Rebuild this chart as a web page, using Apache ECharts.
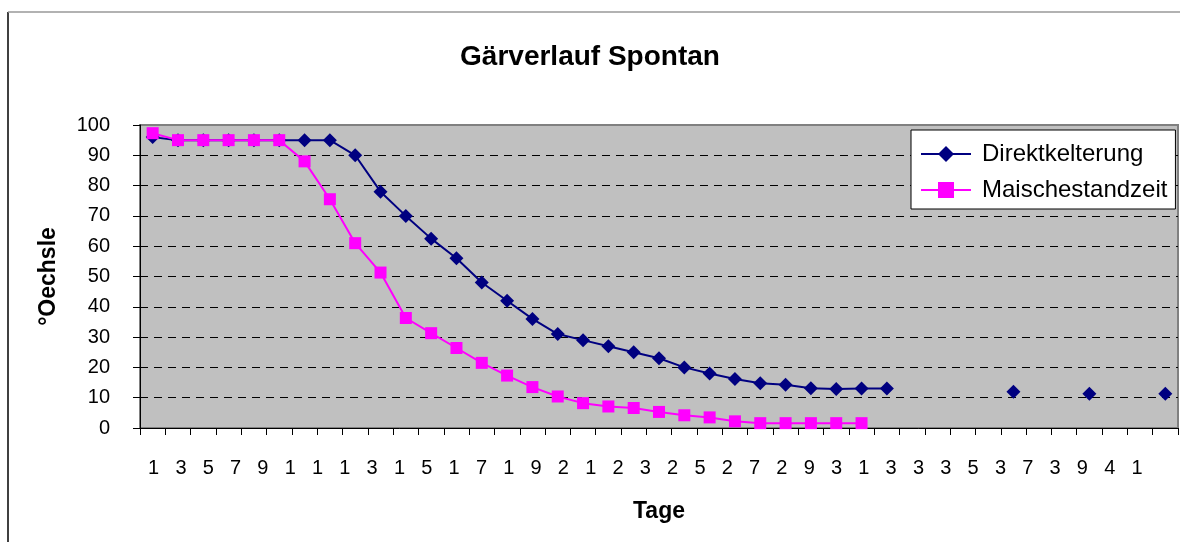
<!DOCTYPE html>
<html>
<head>
<meta charset="utf-8">
<script src="https://cdn.jsdelivr.net/npm/echarts@6/dist/echarts.min.js"></script>
<style>
  html, body { margin: 0; padding: 0; background: #fff; }
  #main { width: 1180px; height: 542px; }
</style>
</head>
<body>
<div id="main"></div>
<script>
// Tage (Kategorien der Messpunkte)
const days = ['1', '2', '3', '4', '5', '6', '7', '8', '9', '10', '11', '12', '13', '14', '15', '16', '17', '18', '19', '20',
  '21', '22', '23', '24', '25', '26', '27', '28', '29', '30', '31', '32', '33', '34', '35', '36', '37', '38', '39', '40', '41']

// Beschriftung der x-Achse so wie sie im Bild steht
const tickLabels = ['1', '3', '5', '7', '9', '1', '1', '1', '3', '1', '5', '1', '7', '1', '9', '2', '1', '2', '3', '2',
  '5', '2', '7', '2', '9', '3', '1', '3', '3', '3', '5', '3', '7', '3', '9', '4', '1', '']

const direktkelterung = [96, 95, 95, 95, 95, 95, 95, 95, 90, 78, 70, 62.5, 56, 48, 42, 36, 31, 29, 27, 25,
  23, 20, 18, 16.2, 14.8, 14.3, 13.1, 12.9, 13, 13, null, null, null, null, 12, null, null, 11.3, null, null, 11.3]

const maischestandzeit = [97.3, 95, 95, 95, 95, 95, 88, 75.5, 61, 51.3, 36.3, 31.3, 26.4, 21.5, 17.3, 13.5, 10.4, 8.2, 7.1, 6.6,
  5.3, 4.2, 3.5, 2.2, 1.6, 1.6, 1.6, 1.6, 1.6]

const yTicks = [0, 10, 20, 30, 40, 50, 60, 70, 80, 90, 100]

const font = 'Liberation Sans, Arial, sans-serif'

let chartDom = document.getElementById('main')
let myChart = echarts.init(chartDom)
let option

option = {
  animation: false,
  title: {
    text: 'Gärverlauf Spontan',
    left: 'center',
    top: 38,
    textStyle: { fontFamily: font, fontSize: 28, fontWeight: 'bold', color: '#000' }
  },
  legend: {
    orient: 'vertical',
    left: 911,
    top: 130,
    padding: [12, 8, 7, 9],
    itemGap: 12,
    itemWidth: 50,
    itemHeight: 20,
    backgroundColor: '#fff',
    borderColor: '#000',
    borderWidth: 1,
    borderRadius: 0,
    textStyle: { fontFamily: font, fontSize: 24, color: '#000', padding: [0, 0, 0, 6] },
    data: ['Direktkelterung', 'Maischestandzeit']
  },
  grid: {
    left: 140,
    right: 2,
    top: 125,
    bottom: 114,
    show: true,
    backgroundColor: '#C0C0C0',
    borderColor: '#808080',
    borderWidth: 2
  },
  xAxis: [
    {
      type: 'category',
      data: days,
      boundaryGap: true,
      name: 'Tage',
      nameLocation: 'middle',
      nameGap: 72,
      nameTextStyle: { fontFamily: font, fontSize: 23, fontWeight: 'bold', color: '#000' },
      axisLine: { lineStyle: { color: '#000', width: 1 } },
      axisTick: { show: true, interval: 0, length: 7, lineStyle: { color: '#000' } },
      axisLabel: { show: false },
      splitLine: { show: false }
    },
    {
      type: 'category',
      data: tickLabels,
      position: 'bottom',
      boundaryGap: true,
      axisLine: { show: false },
      axisTick: { show: false },
      splitLine: { show: false },
      axisLabel: { interval: 0, margin: 30, fontFamily: font, fontSize: 20, color: '#000' }
    }
  ],
  yAxis: {
    type: 'value',
    min: 0,
    max: 100,
    interval: 10,
    name: '°Oechsle',
    nameLocation: 'middle',
    nameGap: 80,
    nameTextStyle: { fontFamily: font, fontSize: 23, fontWeight: 'bold', color: '#000' },
    axisLine: { show: true, lineStyle: { color: '#000', width: 1 } },
    axisTick: { show: true, length: 7, lineStyle: { color: '#000' } },
    axisLabel: { margin: 30, fontFamily: font, fontSize: 20, color: '#000' },
    splitLine: {
      show: true,
      lineStyle: {
        color: yTicks.map(v => (v === 0 || v === 100 ? 'rgba(0,0,0,0)' : '#000')),
        type: [8, 6],
        width: 1
      }
    }
  },
  series: [
    {
      name: 'Direktkelterung',
      type: 'line',
      xAxisIndex: 0,
      data: direktkelterung,
      connectNulls: false,
      showAllSymbol: true,
      symbol: 'diamond',
      symbolSize: 14,
      itemStyle: { color: '#000080' },
      lineStyle: { color: '#000080', width: 2 },
      z: 3
    },
    {
      name: 'Maischestandzeit',
      type: 'line',
      xAxisIndex: 0,
      data: maischestandzeit,
      showAllSymbol: true,
      symbol: 'rect',
      symbolSize: 12,
      itemStyle: { color: '#FF00FF' },
      lineStyle: { color: '#FF00FF', width: 2 },
      z: 4
    }
  ],
  graphic: [
    { type: 'line', shape: { x1: 8, y1: 12, x2: 8, y2: 542 }, style: { stroke: '#000', lineWidth: 1.5 } },
    { type: 'line', shape: { x1: 8, y1: 12, x2: 1180, y2: 12 }, style: { stroke: '#999', lineWidth: 1.5 } }
  ]
}

option && myChart.setOption(option)
</script>
</body>
</html>
